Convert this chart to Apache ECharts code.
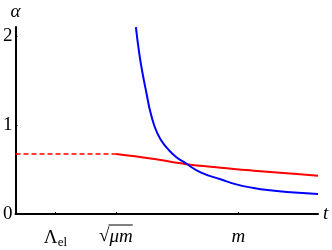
<!DOCTYPE html>
<html><head><meta charset="utf-8">
<script src="https://cdn.jsdelivr.net/npm/echarts@6/dist/echarts.min.js"></script>
<style>html,body{margin:0;padding:0;background:#fff}#c{width:332px;height:250px}</style>
</head><body><div id="c"></div>
<script>
// x in arbitrary units (0..10), y = alpha
const xTickValues = [1.32, 3.32, 7.37];
const xTickLabels = ['{a|Λ}{s|el}', '{r|√}{i|μm}', '{i|m}'];
const yTickValues = [0, 1, 2];
const redDashed = [[0, 0.674], [3.32, 0.674]];
const redSolid = [[3.32, 0.674], [4.47, 0.624], [5.60, 0.562], [6.78, 0.520], [7.87, 0.487], [8.97, 0.457], [10, 0.430]];
const blueCurve = [[3.98, 2.098], [4.09, 1.806], [4.20, 1.581], [4.33, 1.356], [4.47, 1.131], [4.69, 0.906], [4.97, 0.756], [5.30, 0.644], [5.60, 0.576], [6.12, 0.468], [6.78, 0.390], [7.33, 0.330], [7.87, 0.293], [8.42, 0.266], [8.97, 0.247], [10, 0.225]];

const serif = 'Liberation Serif';
const FS = 19;
const chart = echarts.init(document.getElementById('c'), null, {renderer: 'canvas'});
chart.setOption({
  animation: false,
  grid: {left: 14, right: 14, top: 27, bottom: 36, containLabel: false},
  xAxis: {
    type: 'value', min: 0, max: 10,
    name: 't', nameLocation: 'end', nameGap: 5,
    nameTextStyle: {fontFamily: serif, fontStyle: 'italic', fontSize: FS, color: '#000', verticalAlign: 'middle'},
    axisLine: {lineStyle: {color: '#000', width: 2}},
    axisTick: {show: true, inside: true, length: 2, customValues: xTickValues, lineStyle: {color: '#000', width: 1}},
    splitLine: {show: false},
    axisLabel: {
      customValues: xTickValues, margin: 13, color: '#000',
      fontFamily: serif, fontSize: FS,
      formatter: function (v) { const i = xTickValues.indexOf(v); return i >= 0 ? xTickLabels[i] : ''; },
      rich: {
        a: {fontFamily: serif, fontSize: FS, color: '#000'},
        s: {fontFamily: serif, fontSize: 13, color: '#000', verticalAlign: 'bottom', padding: [9, 0, 0, 0]},
        r: {fontFamily: serif, fontSize: FS, color: '#000'},
        i: {fontFamily: serif, fontStyle: 'italic', fontSize: FS, color: '#000'}
      }
    }
  },
  yAxis: {
    type: 'value', min: 0, max: 2.1, interval: 1,
    name: 'α', nameLocation: 'end', nameGap: 6,
    nameTextStyle: {fontFamily: serif, fontStyle: 'italic', fontSize: FS, color: '#000', align: 'center'},
    axisLine: {show: true, lineStyle: {color: '#000', width: 2}},
    axisTick: {show: true, inside: true, length: 2, customValues: [1, 2], lineStyle: {color: '#000', width: 1}},
    splitLine: {show: false},
    axisLabel: {customValues: yTickValues, margin: 3, color: '#000', fontFamily: serif, fontSize: FS}
  },
  series: [
    {type: 'line', data: redDashed, symbol: 'none', lineStyle: {color: '#ff0000', width: 1.6, type: [5, 3]}},
    {type: 'line', data: redSolid, symbol: 'none', smooth: 0.4, lineStyle: {color: '#ff0000', width: 2}},
    {type: 'line', data: blueCurve, symbol: 'none', smooth: 0.5, lineStyle: {color: '#0000ff', width: 2}}
  ]
});
// overline (vinculum) of the square root over "μm"
(function () {
  const cv = document.createElement('canvas').getContext('2d');
  cv.font = FS + 'px "' + serif + '"';
  const wR = cv.measureText('√').width;
  cv.font = 'italic ' + FS + 'px "' + serif + '"';
  const wI = cv.measureText('μm').width;
  const p = chart.convertToPixel({xAxisIndex: 0, yAxisIndex: 0}, [xTickValues[1], 0]);
  const left = p[0] - (wR + wI) / 2 + wR - 1;
  const y = p[1] + 11;
  chart.setOption({graphic: [{type: 'line', shape: {x1: left, y1: y, x2: left + wI + 1, y2: y}, style: {stroke: '#000', lineWidth: 1}}]});
})();
</script></body></html>
